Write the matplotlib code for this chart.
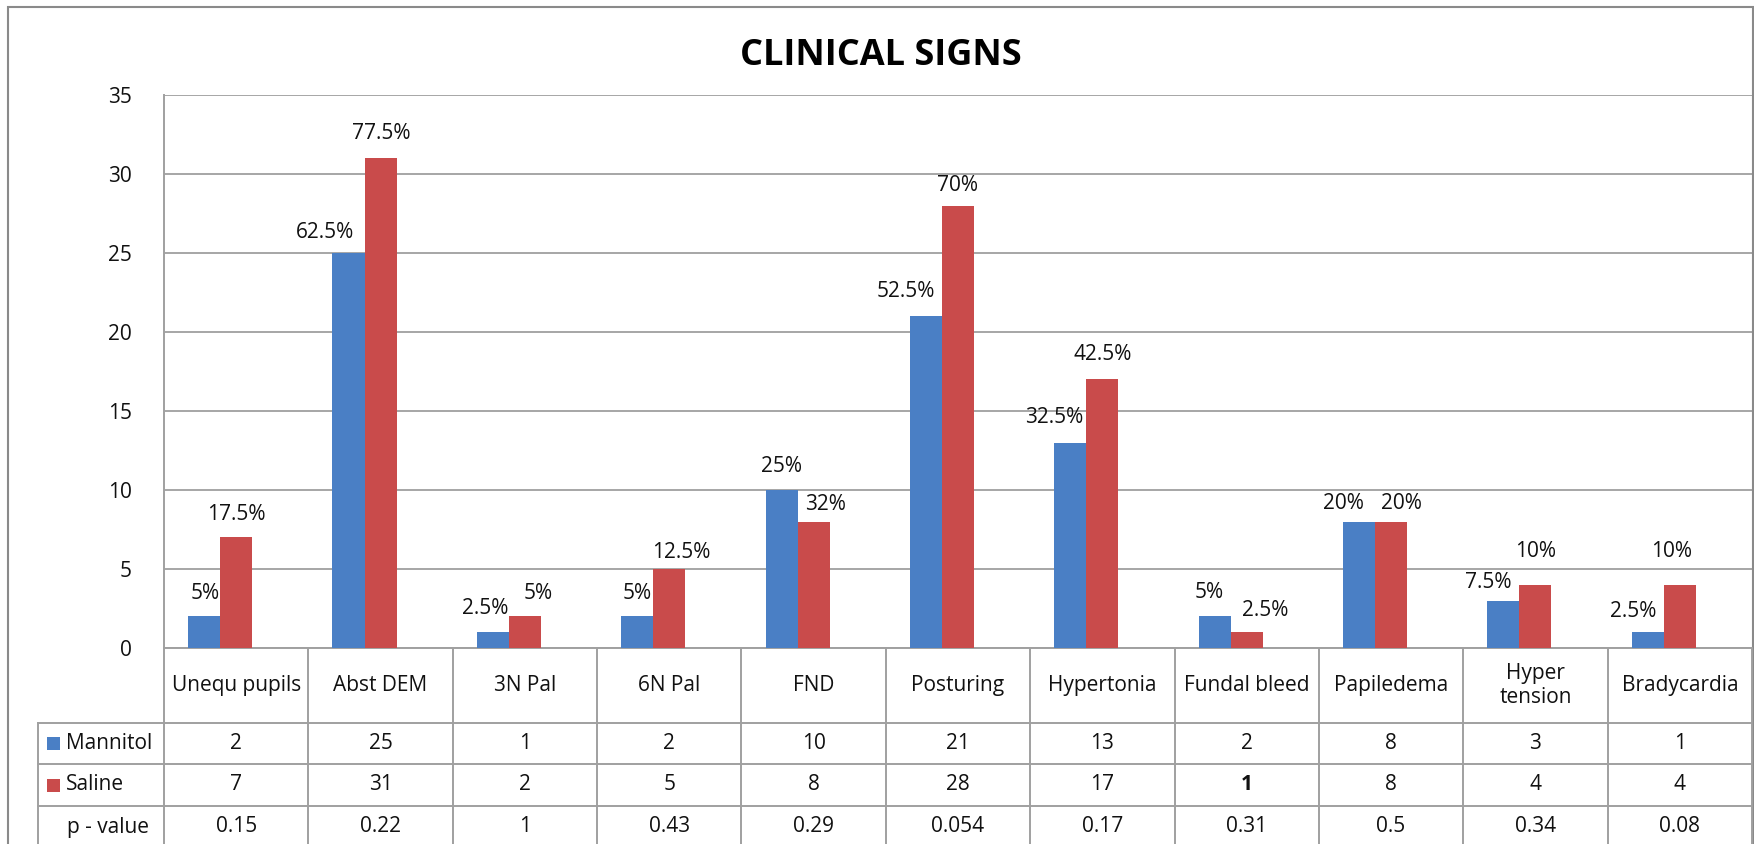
import matplotlib
matplotlib.use("Agg")
import matplotlib.pyplot as plt
from matplotlib import transforms
from matplotlib.lines import Line2D
from matplotlib.patches import Rectangle
import numpy as np

# ---- data -------------------------------------------------------------
categories = ["Unequ pupils", "Abst DEM", "3N Pal", "6N Pal", "FND", "Posturing",
              "Hypertonia", "Fundal bleed", "Papiledema", "Hyper\ntension", "Bradycardia"]
mannitol = [2, 25, 1, 2, 10, 21, 13, 2, 8, 3, 1]
saline = [7, 31, 2, 5, 8, 28, 17, 1, 8, 4, 4]
p_value = [0.15, 0.22, 1, 0.43, 0.29, 0.054, 0.17, 0.31, 0.5, 0.34, 0.08]
mannitol_pct = ["5%", "62.5%", "2.5%", "5%", "25%", "52.5%", "32.5%", "5%", "20%", "7.5%", "2.5%"]
saline_pct = ["17.5%", "77.5%", "5%", "12.5%", "32%", "70%", "42.5%", "2.5%", "20%", "10%", "10%"]
y_ticks = [0, 5, 10, 15, 20, 25, 30, 35]

# label nudges (pixels) relative to the top centre of each bar
mannitol_nudge = [(1, 23), (-23, 21), (-8, 24), (0, 23), (0, 24), (-20, 25),
                  (-16, 25), (-5, 24), (-16, 18), (-15, 18), (-15, 21)]
saline_nudge = [(0, 23), (1, 25), (13, 23), (12, 17), (12, 17), (0, 20),
                (0, 25), (18, 22), (10, 18), (0, 33), (-8, 33)]

# ---- style ------------------------------------------------------------
plt.rcParams["font.family"] = ["Open Sans", "DejaVu Sans"]
BLUE = "#4A7FC5"
RED = "#C94B4B"
GRID = "#A6A6A6"
LINE = "#A0A0A0"
TEXT = "#111111"
FS = 15

W_PX, H_PX = 1754, 844
fig = plt.figure(figsize=(W_PX / 100, H_PX / 100), dpi=100)
fig.patch.set_facecolor("white")


def fx(px):
    return px / W_PX


def fy(py):
    return 1 - py / H_PX


ax_left, ax_right, ax_top, ax_bot = 164, 1752, 95, 648
ax = fig.add_axes([fx(ax_left), fy(ax_bot), fx(ax_right - ax_left), (ax_bot - ax_top) / H_PX])

n = len(categories)
x = np.arange(n)
w = 1 / 4.5
ax.bar(x - w, mannitol, w, color=BLUE, zorder=3)
ax.bar(x, saline, w, color=RED, zorder=3)
ax.bar(x + w, p_value, w, fill=False, linewidth=0, zorder=3)  # p-value series (no fill)

ax.set_xlim(-0.5, n - 0.5)
ax.set_ylim(0, 35)
ax.set_yticks(y_ticks)
ax.set_xticks([])
ax.yaxis.grid(True, color=GRID, linewidth=1.4, zorder=0)
ax.set_axisbelow(True)
for side in ("top", "right"):
    ax.spines[side].set_visible(False)
for side in ("left", "bottom"):
    ax.spines[side].set_color(LINE)
    ax.spines[side].set_linewidth(1.4)
ax.tick_params(axis="y", length=0, pad=23, labelsize=FS, labelcolor=TEXT)

# percentage labels
for i in range(n):
    ax.annotate(mannitol_pct[i], (x[i] - w, mannitol[i]), xytext=mannitol_nudge[i],
                textcoords="offset pixels", ha="center", va="center",
                fontsize=FS, color=TEXT, annotation_clip=False)
    ax.annotate(saline_pct[i], (x[i], saline[i]), xytext=saline_nudge[i],
                textcoords="offset pixels", ha="center", va="center",
                fontsize=FS, color=TEXT, annotation_clip=False)

# ---- data table under the axis ---------------------------------------
bt = transforms.blended_transform_factory(ax.transData, fig.transFigure)
row_edges = [648, 723, 764, 806, 860]
header_left = 38

# vertical cell borders
for b in np.arange(n + 1) - 0.5:
    fig.add_artist(Line2D([b, b], [fy(row_edges[0]), fy(row_edges[-1])],
                          transform=bt, color=LINE, lw=1.4))
fig.add_artist(Line2D([fx(header_left), fx(header_left)], [fy(row_edges[1]), fy(row_edges[-1])],
                      transform=fig.transFigure, color=LINE, lw=1.4))
# horizontal cell borders
for r in row_edges[1:4]:
    fig.add_artist(Line2D([-0.5, n - 0.5], [fy(r), fy(r)], transform=bt, color=LINE, lw=1.4))
    fig.add_artist(Line2D([fx(header_left), fx(ax_left)], [fy(r), fy(r)],
                          transform=fig.transFigure, color=LINE, lw=1.4))

row_mid = [(row_edges[k] + row_edges[k + 1]) / 2 for k in range(3)] + [827]
for i, cat in enumerate(categories):
    fig.text(x[i], fy(row_mid[0]), cat, transform=bt, ha="center", va="center",
             fontsize=FS, color=TEXT, linespacing=1.15)
    fig.text(x[i], fy(row_mid[1]), f"{mannitol[i]:g}", transform=bt, ha="center",
             va="center", fontsize=FS, color=TEXT)
    fig.text(x[i], fy(row_mid[2]), f"{saline[i]:g}", transform=bt, ha="center",
             va="center", fontsize=FS, color=TEXT,
             fontweight="bold" if categories[i] == "Fundal bleed" else "normal")
    fig.text(x[i], fy(row_mid[3]), f"{p_value[i]:g}", transform=bt, ha="center",
             va="center", fontsize=FS, color=TEXT)

# row headers with legend keys
key = 13
for yc, name, col in [(row_mid[1], "Mannitol", BLUE), (row_mid[2], "Saline", RED)]:
    fig.add_artist(Rectangle((fx(47), fy(yc + key / 2)), key / W_PX, key / H_PX,
                             transform=fig.transFigure, facecolor=col, edgecolor="none"))
    fig.text(fx(66), fy(yc), name, ha="left", va="center", fontsize=FS, color=TEXT)
fig.text(fx(67), fy(row_mid[3]), "p - value", ha="left", va="center", fontsize=FS, color=TEXT)

# ---- title and outer chart border ------------------------------------
fig.text(fx(881), fy(56), "CLINICAL SIGNS", ha="center", va="center",
         fontsize=26, fontweight="bold", color="#000000")
fig.add_artist(Rectangle((fx(8), fy(900)), fx(1753 - 8), (900 - 7) / H_PX,
                         transform=fig.transFigure, fill=False, edgecolor="#8A8A8A", lw=1.5))

fig.savefig("out.png", dpi=100, facecolor="white")
